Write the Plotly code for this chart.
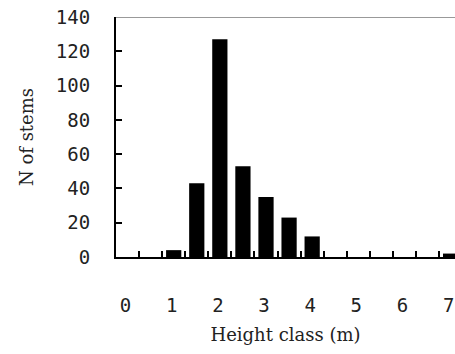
import plotly.graph_objects as go

height_class = [0, 0.5, 1, 1.5, 2, 2.5, 3, 3.5, 4, 4.5, 5, 5.5, 6, 6.5, 7]
n_stems = [0, 0, 4, 43, 127, 53, 35, 23, 12, 0, 0, 0, 0, 0, 2]
x_tick_vals = [0, 1, 2, 3, 4, 5, 6, 7]
x_tick_text = ["0", "1", "2", "3", "4", "5", "6", "7"]
y_tick_vals = [0, 20, 40, 60, 80, 100, 120, 140]
class_bounds = [0.25 + 0.5 * i for i in range(14)]

fig = go.Figure(go.Bar(
    x=height_class, y=n_stems, width=0.33,
    marker=dict(color="black", line=dict(width=0)),
))

tick_font = dict(family="DejaVu Sans Mono", size=19, color="#222")
title_font = dict(family="DejaVu Serif", size=18, color="#222")

fig.update_layout(
    width=455, height=354,
    margin=dict(l=116, r=0, t=17, b=97),
    paper_bgcolor="white", plot_bgcolor="white",
    showlegend=False,
    xaxis=dict(
        range=[-0.25, 7.095], tickvals=x_tick_vals, ticktext=x_tick_text,
        ticks="", showgrid=False, zeroline=False, automargin=False,
        showline=True, linecolor="black", linewidth=2,
        tickfont=tick_font, ticklabelstandoff=30, ticklabelshift=-2,
        ticklabeloverflow="allow",
        minor=dict(tickvals=class_bounds, ticks="inside", ticklen=6,
                   tickcolor="black", tickwidth=2, showgrid=False),
        title=dict(text="Height class (m)", font=title_font, standoff=14),
    ),
    yaxis=dict(
        range=[0, 140], tickvals=y_tick_vals, automargin=False,
        ticks="inside", ticklen=6, tickcolor="black", tickwidth=2,
        showgrid=False, zeroline=False,
        showline=True, linecolor="black", linewidth=2,
        tickfont=tick_font, ticklabelstandoff=20,
        title=dict(text="N of stems", font=title_font, standoff=18),
    ),
    shapes=[dict(type="line", xref="paper", yref="y", x0=0, x1=1, y0=140, y1=140,
                 line=dict(color="#999999", width=2))],
)

fig.write_html(
    "out.html",
    config={"displayModeBar": False},
    post_script="document.body.style.margin='0';document.body.style.overflow='hidden';",
)
